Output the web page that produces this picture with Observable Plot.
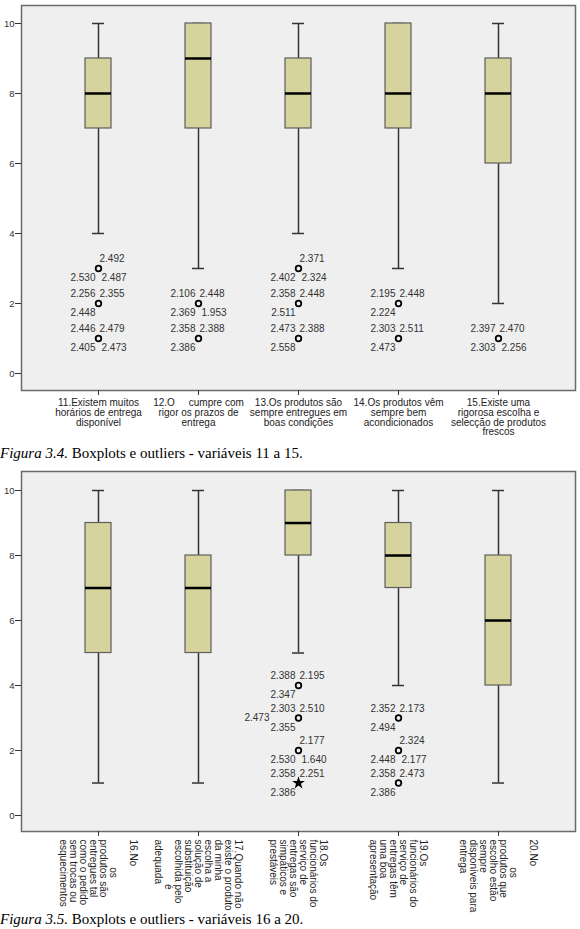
<!DOCTYPE html>
<html><head><meta charset="utf-8">
<script src="https://cdn.jsdelivr.net/npm/d3@7"></script>
<script src="https://cdn.jsdelivr.net/npm/@observablehq/plot@0.6"></script>
<style>
body{margin:0;background:#fff;width:580px;height:929px;overflow:hidden;position:relative}
#p1{position:absolute;left:0;top:0}
#p2{position:absolute;left:0;top:466px}
.cap{position:absolute;left:0;font-family:"Liberation Serif","Times New Roman",serif;font-size:15px;line-height:16px;white-space:nowrap;color:#000}
svg{display:block}
</style></head><body>
<div id="p1"></div>
<div class="cap" style="top:445px"><i>Figura 3.4.</i> Boxplots e outliers - variáveis 11 a 15.</div>
<div id="p2"></div>
<div class="cap" style="top:911px"><i>Figura 3.5.</i> Boxplots e outliers - variáveis 16 a 20.</div>
<script>
// ---------- Panel 1 (variables 11-15) ----------
const vars1 = ["11","12","13","14","15"];
const names1 = [
  "11.Existem muitos\nhorários de entrega\ndisponível",
  "12.O     cumpre com\nrigor os prazos de\nentrega",
  "13.Os produtos são\nsempre entregues em\nboas condições",
  "14.Os produtos vêm\nsempre bem\nacondicionados",
  "15.Existe uma\nrigorosa escolha e\nselecção de produtos\nfrescos"
];
const q1_1  = [7, 7, 7, 7, 6];
const med1  = [8, 9, 8, 8, 8];
const q3_1  = [9, 10, 9, 10, 9];
const lo1   = [4, 3, 4, 3, 2];
const hi1   = [10, 10, 10, 10, 10];
// [variable, value, case label, label place]
const outliers1 = [
  ["11",3,"2.492","ur"],["11",3,"2.530","ll"],["11",3,"2.487","lr"],
  ["11",2,"2.256","ul"],["11",2,"2.355","ur"],["11",2,"2.448","ll"],
  ["11",1,"2.446","ul"],["11",1,"2.479","ur"],["11",1,"2.405","ll"],["11",1,"2.473","lr"],
  ["12",2,"2.106","ul"],["12",2,"2.448","ur"],["12",2,"2.369","ll"],["12",2,"1.953","lr"],
  ["12",1,"2.358","ul"],["12",1,"2.388","ur"],["12",1,"2.386","ll"],
  ["13",3,"2.371","ur"],["13",3,"2.402","ll"],["13",3,"2.324","lr"],
  ["13",2,"2.358","ul"],["13",2,"2.448","ur"],["13",2,"2.511","ll"],
  ["13",1,"2.473","ul"],["13",1,"2.388","ur"],["13",1,"2.558","ll"],
  ["14",2,"2.195","ul"],["14",2,"2.448","ur"],["14",2,"2.224","ll"],
  ["14",1,"2.303","ul"],["14",1,"2.511","ur"],["14",1,"2.473","ll"],
  ["15",1,"2.397","ul"],["15",1,"2.470","ur"],["15",1,"2.303","ll"],["15",1,"2.256","lr"]
];
const extremes1 = [];

// ---------- Panel 2 (variables 16-20) ----------
const vars2 = ["16","17","18","19","20"];
const names2 = [
  "16.No\n \n          os\nprodutos são\nentregues tal\ncomo o pedido\nsem trocas ou\nesquecimentos",
  "17.Quando não\nexiste o produto\nda minha\nescolha a\nsolução de\nsubstituição\nescolhida pelo\n                é\nadequada",
  "18.Os\nfuncionários do\nserviço de\nentregas são\nsimpáticos e\nprestáveis",
  "19.Os\nfuncionários do\nserviço de\nentregas têm\numa boa\napresentação",
  "20.No\n \n          os\nprodutos que\nescolho estão\nsempre\ndisponíveis para\nentrega"
];
const q1_2  = [5, 5, 8, 7, 4];
const med2  = [7, 7, 9, 8, 6];
const q3_2  = [9, 8, 10, 9, 8];
const lo2   = [1, 1, 5, 4, 1];
const hi2   = [10, 10, 10, 10, 10];
const outliers2 = [
  ["18",4,"2.388","ul"],["18",4,"2.195","ur"],["18",4,"2.347","ll"],
  ["18",3,"2.303","ul"],["18",3,"2.510","ur"],["18",3,"2.473","w"],["18",3,"2.355","ll"],
  ["18",2,"2.177","ur"],["18",2,"2.530","ll"],["18",2,"1.640","lr"],
  ["18",1,"2.358","ul"],["18",1,"2.251","ur"],["18",1,"2.386","ll"],
  ["19",3,"2.352","ul"],["19",3,"2.173","ur"],["19",3,"2.494","ll"],
  ["19",2,"2.324","ur"],["19",2,"2.448","ll"],["19",2,"2.177","lr"],
  ["19",1,"2.358","ul"],["19",1,"2.473","ur"],["19",1,"2.386","ll"]
];
const extremes2 = [["18",1]];

const yTicks = [0, 2, 4, 6, 8, 10];

const nb = s => s.replace(/ /g, "\u00A0");

function panel({cats, names, q1, med, q3, lo, hi, outliers, extremes, height, marginBottom, yDomain, rotated}) {
  const boxes = cats.map((c, i) => ({c, q1: q1[i], med: med[i], q3: q3[i], lo: lo[i], hi: hi[i], name: nb(names[i])}));
  const labels = outliers.map(([c, v, label, place]) => ({c, v, label, place}));
  const isExt = (c, v) => extremes.some(e => e[0] === c && e[1] === v);
  const pts = [];
  for (const d of labels) if (!pts.some(p => p.c === d.c && p.v === d.v)) pts.push({c: d.c, v: d.v, ext: isExt(d.c, d.v)});
  const lab = (place, o) => Plot.text(labels.filter(d => d.place === place), {x: "c", y: "v", text: "label", fontSize: 10, fill: "#333", ...o});
  const nameMark = rotated
    ? Plot.text(boxes, {x: "c", frameAnchor: "bottom", dy: 8, rotate: 90, textAnchor: "start", lineAnchor: "middle", text: "name", fontSize: 10, lineHeight: 1, fill: "#222"})
    : Plot.text(boxes, {x: "c", frameAnchor: "bottom", dy: 9, textAnchor: "middle", lineAnchor: "top", text: "name", fontSize: 10, lineHeight: 0.97, fill: "#222"});
  return Plot.plot({
    width: 580, height, marginLeft: 21, marginRight: 5, marginTop: 5, marginBottom,
    style: {fontFamily: "Arial, 'Liberation Sans', sans-serif", background: "transparent", overflow: "visible"},
    x: {type: "band", domain: cats, paddingInner: 0.7426, paddingOuter: 0.614},
    y: {domain: yDomain},
    marks: [
      Plot.frame({fill: "#efefef", stroke: "#6a6a6a", strokeWidth: 1.5}),
      Plot.axisY({ticks: yTicks, tickSize: 6, tickPadding: 1, fontSize: 9.5, color: "#333", label: null}),
      Plot.axisX({tickSize: 5, tickFormat: () => "", label: null, color: "#333"}),
      Plot.ruleX(boxes, {x: "c", y1: "lo", y2: "hi", stroke: "#333", strokeWidth: 1.5}),
      Plot.tickY(boxes, {x: "c", y: "lo", insetLeft: 7, insetRight: 7, stroke: "#333", strokeWidth: 1.5}),
      Plot.tickY(boxes, {x: "c", y: "hi", insetLeft: 7, insetRight: 7, stroke: "#333", strokeWidth: 1.5}),
      Plot.barY(boxes, {x: "c", y1: "q1", y2: "q3", fill: "#d6d39c", stroke: "#5d5d5d", strokeWidth: 1.2}),
      Plot.tickY(boxes, {x: "c", y: "med", stroke: "#000", strokeWidth: 2.5}),
      Plot.dot(pts.filter(d => !d.ext), {x: "c", y: "v", r: 2.8, stroke: "#000", strokeWidth: 1.8, fill: "none"}),
      Plot.dot(pts.filter(d => d.ext), {x: "c", y: "v", r: 4, symbol: "star", fill: "#000", stroke: "none"}),
      lab("ul", {textAnchor: "end", dx: -3, dy: -9.5}),
      lab("ur", {textAnchor: "start", dx: 1, dy: -9.5}),
      lab("ll", {textAnchor: "end", dx: -3, dy: 9.5}),
      lab("lr", {textAnchor: "start", dx: 3, dy: 9.5}),
      lab("w",  {textAnchor: "end", dx: -29, dy: 0}),
      nameMark
    ]
  });
}

document.getElementById("p1").append(panel({
  cats: vars1, names: names1, q1: q1_1, med: med1, q3: q3_1, lo: lo1, hi: hi1,
  outliers: outliers1, extremes: extremes1, height: 440, marginBottom: 50,
  yDomain: [-0.486, 10.514], rotated: false
}));
document.getElementById("p2").append(panel({
  cats: vars2, names: names2, q1: q1_2, med: med2, q3: q3_2, lo: lo2, hi: hi2,
  outliers: outliers2, extremes: extremes2, height: 445, marginBottom: 80,
  yDomain: [-0.492, 10.585], rotated: true
}));
</script>
</body></html>
